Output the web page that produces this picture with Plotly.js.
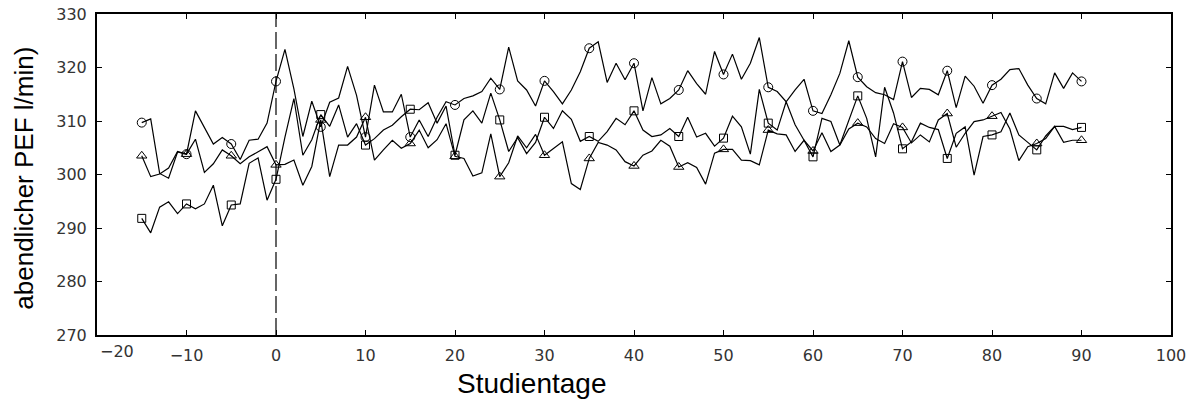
<!DOCTYPE html>
<html>
<head>
<meta charset="utf-8">
<script src="https://cdn.plot.ly/plotly-3.0.1.min.js"></script>
<style>html,body{margin:0;padding:0;background:#fff;}#chart{width:1199px;height:403px;}</style>
</head>
<body>
<div id="chart"></div>
<script>
// Study days (-15 .. 90)
const studyDays = [];
for (let d = -15; d <= 90; d++) studyDays.push(d);

// Evening PEF values, series with circle markers
const circleSeries = [
309.7,310.4,300.2,299.3,304.2,303.8,311.9,308.8,305.7,306.9,305.7,302.8,306.4,306.6,309.6,
317.4,323.4,316.0,307.1,313.7,308.9,313.5,314.3,320.2,314.8,307.0,316.7,311.7,311.7,315.0,
307.0,310.2,307.1,310.7,313.6,313.0,314.2,314.7,315.5,318.0,315.9,323.8,317.5,315.8,312.8,
317.5,315.5,313.2,315.8,319.2,323.6,324.8,317.2,320.8,317.7,320.8,311.9,318.1,313.2,314.2,
315.8,319.4,317.0,315.0,323.0,318.7,322.5,317.8,320.8,325.6,316.3,315.5,313.6,315.8,317.8,
311.9,311.4,314.9,318.9,325.0,318.2,316.4,315.3,314.9,314.0,321.1,314.4,316.1,315.9,314.9,
319.4,312.5,318.4,316.5,313.3,316.7,317.8,319.6,319.8,316.7,314.2,313.2,319.0,316.1,319.0,317.4];

// Series with square markers
const squareSeries = [
291.8,289.1,293.9,294.9,292.7,294.5,293.6,294.5,298.0,290.4,294.3,294.5,302.1,303.1,295.2,
299.1,307.0,314.2,303.6,306.5,311.2,309.0,313.0,307.0,309.5,305.5,306.7,308.3,309.2,310.8,
312.2,312.1,313.4,309.6,312.8,303.6,310.2,311.9,309.6,315.2,310.2,304.3,306.9,303.9,306.0,
310.7,308.6,311.9,310.3,306.2,307.1,306.2,308.0,310.5,309.3,311.9,308.3,307.1,307.4,308.6,
307.1,310.7,307.0,307.7,305.3,306.8,310.9,308.9,303.8,315.9,309.6,308.3,313.6,309.3,306.4,
303.3,310.5,309.9,305.5,310.2,314.7,310.5,303.3,316.3,311.5,304.8,306.1,309.6,308.8,308.4,
303.0,307.7,308.9,299.9,307.1,307.4,308.0,311.5,307.4,306.0,304.6,307.2,309.0,309.0,308.4,308.8];

// Series with triangle markers
const triangleSeries = [
303.5,299.6,300.1,301.2,304.3,303.8,306.6,300.4,302.0,304.6,303.5,302.0,303.3,304.3,305.2,
301.8,301.9,302.7,298.0,301.5,310.2,299.6,305.5,305.5,307.0,310.7,302.7,304.6,306.4,304.9,
305.8,308.3,305.0,306.5,309.5,303.4,303.0,299.7,300.3,307.6,299.6,302.2,307.2,305.0,307.5,
303.6,304.9,306.1,298.3,297.2,303.0,306.0,305.5,304.6,302.4,301.6,303.6,304.4,306.4,305.3,
301.4,302.2,301.3,298.2,304.0,304.7,304.7,302.7,302.6,301.8,308.3,307.6,307.4,304.3,306.4,
304.4,307.8,304.3,305.5,308.5,309.6,308.9,306.7,305.8,309.5,308.8,305.9,307.4,306.1,310.2,
311.4,305.1,307.7,309.9,310.2,310.9,311.6,308.5,302.6,305.2,305.8,306.7,309.0,306.0,306.4,306.4];

// Axis ticks
const xTickVals = [-10, 0, 10, 20, 30, 40, 50, 60, 70, 80, 90, 100];
const xTickText = ["\u221210", "0", "10", "20", "30", "40", "50", "60", "70", "80", "90", "100"];
const xFirstTickVal = -20;
const xFirstTickText = "\u221220";
const yTickVals = [270, 280, 290, 300, 310, 320, 330];
const yTickText = ["270", "280", "290", "300", "310", "320", "330"];
const markerEvery = 5;
const treatmentStartDay = 0;

const xTitle = "Studientage";
const yTitle = "abendlicher PEF l/min)";

function markerPts(vals) {
  const xs = [], ys = [];
  studyDays.forEach((d, i) => { if (d % markerEvery === 0) { xs.push(d); ys.push(vals[i]); } });
  return {xs, ys};
}

const lineStyle = {color: '#000', width: 1.2};
const traces = [];
[[circleSeries, 'circle-open', 9], [squareSeries, 'square-open', 8], [triangleSeries, 'triangle-up-open', 9]].forEach(([vals, sym, sz]) => {
  traces.push({x: studyDays, y: vals, type: 'scatter', mode: 'lines', line: lineStyle, hoverinfo: 'skip', showlegend: false});
  const m = markerPts(vals);
  traces.push({x: m.xs, y: m.ys, type: 'scatter', mode: 'markers',
    marker: {symbol: sym, size: sz, color: '#000', line: {width: 1, color: '#000'}}, showlegend: false});
});

const tickFont = {family: 'DejaVu Sans', size: 16, color: '#333'};

const layout = {
  width: 1199, height: 403,
  margin: {l: 97, r: 28, t: 14, b: 68},
  paper_bgcolor: '#fff', plot_bgcolor: '#fff',
  showlegend: false,
  xaxis: {
    range: [-20, 100], tickmode: 'array', tickvals: xTickVals, ticktext: xTickText,
    ticks: 'inside', ticklen: 5, tickwidth: 1, tickcolor: '#000',
    showline: true, linewidth: 2, linecolor: '#000', mirror: 'ticks',
    showgrid: false, zeroline: false, tickfont: tickFont, ticklabelstandoff: 5
  },
  yaxis: {
    range: [270, 330], tickmode: 'array', tickvals: yTickVals, ticktext: yTickText,
    ticks: 'inside', ticklen: 5, tickwidth: 1, tickcolor: '#000',
    showline: true, linewidth: 2, linecolor: '#000', mirror: 'ticks',
    showgrid: false, zeroline: false, tickfont: tickFont, ticklabelstandoff: 5
  },
  shapes: [{type: 'line', xref: 'x', yref: 'paper', x0: treatmentStartDay, x1: treatmentStartDay, y0: 0, y1: 1,
    line: {color: '#000', width: 1.2, dash: '17px,5px'}}],
  annotations: [
    {text: xFirstTickText, xref: 'x', yref: 'paper', x: xFirstTickVal, y: 0, xanchor: 'left', yanchor: 'top',
     xshift: 1, yshift: -5, showarrow: false, font: tickFont},
    {text: xTitle, xref: 'paper', yref: 'paper', x: 0.405, y: -0.15, xanchor: 'center', yanchor: 'middle',
     showarrow: false, font: {family: 'Liberation Sans, Arial, sans-serif', size: 28, color: '#000'}},
    {text: yTitle, xref: 'paper', yref: 'paper', x: -0.068, y: 0.49, xanchor: 'center', yanchor: 'middle',
     textangle: -90, showarrow: false, font: {family: 'Liberation Sans, Arial, sans-serif', size: 26, color: '#000'}}
  ]
};

Plotly.newPlot('chart', traces, layout, {displayModeBar: false, staticPlot: true});
</script>
</body>
</html>
